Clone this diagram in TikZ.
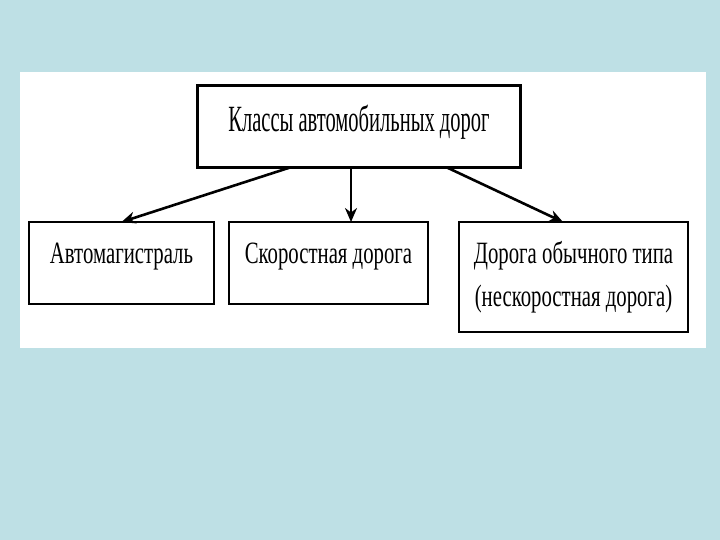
\documentclass[tikz,border=0pt]{standalone}
\usepackage{fontspec}
\setmainfont{Liberation Serif}
\newfontfamily\topfont[FakeStretch=0.555]{Liberation Serif}
\newfontfamily\condfont[FakeStretch=0.67]{Liberation Serif}
\usetikzlibrary{arrows.meta}
\definecolor{bgblue}{RGB}{190,224,229}
\tikzset{
  box/.style={draw=black, line width=2.8pt, fill=white, rectangle, inner sep=0pt, outer sep=0pt, align=center},
  conn/.style={line width=2.6pt, -{Stealth[length=14pt,width=12pt]}},
}
\begin{document}
\begin{tikzpicture}[x=1pt,y=-1pt]
\useasboundingbox (0,0) rectangle (720,540);
\fill[bgblue] (0,0) rectangle (720,540);
\fill[white] (20,72) rectangle (706,348);
\node[box, minimum width=323pt, minimum height=82pt, text height=25pt, text depth=14pt, font=\topfont\fontsize{37}{44}\selectfont] (top) at (359,126.5) {Классы автомобильных дорог};
\node[box, minimum width=185pt, minimum height=82pt, text height=20pt, text depth=20pt, font=\condfont\fontsize{31}{36}\selectfont] (left) at (121.5,263) {Автомагистраль};
\node[box, minimum width=199pt, minimum height=82pt, text height=20pt, text depth=20pt, font=\condfont\fontsize{31}{36}\selectfont] (mid) at (328.5,263) {Скоростная дорога};
\node[box, minimum width=229pt, minimum height=110pt, font=\condfont\fontsize{31}{43}\selectfont] (right) at (573.5,277) {Дорога обычного типа\\(нескоростная дорога)};
\draw[conn] ([xshift=-69pt]top.south) -- (left.north);
\draw[conn] ([xshift=-8pt]top.south) -- ([xshift=-8pt]top.south |- mid.north);
\draw[conn] ([xshift=88pt]top.south) -- ([xshift=-10.5pt]right.north);
\end{tikzpicture}
\end{document}
